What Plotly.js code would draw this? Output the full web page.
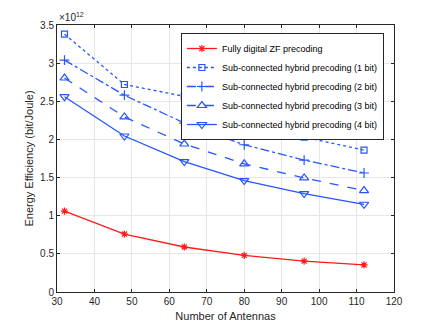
<!DOCTYPE html>
<html><head><meta charset="utf-8">
<script src="https://cdn.plot.ly/plotly-3.0.1.min.js"></script>
<style>html,body{margin:0;padding:0;background:#fff}#chart{width:436px;height:328px}</style>
</head><body><div id="chart"></div>
<script>
const antennas = [32, 48, 64, 80, 96, 112];
// Energy efficiency in units of 1e12 bit/Joule
const fullyDigitalZF = [1.06, 0.76, 0.59, 0.48, 0.405, 0.355];
const subConn1bit = [3.38, 2.72, 2.565, 2.25, 2.03, 1.86];
const subConn2bit = [3.04, 2.58, 2.215, 1.93, 1.73, 1.56];
const subConn3bit = [2.805, 2.295, 1.94, 1.68, 1.495, 1.33];
const subConn4bit = [2.56, 2.045, 1.71, 1.46, 1.29, 1.15];
const seriesNames = ["Fully digital ZF precoding",
  "Sub-connected hybrid precoding (1 bit)",
  "Sub-connected hybrid precoding (2 bit)",
  "Sub-connected hybrid precoding (3 bit)",
  "Sub-connected hybrid precoding (4 bit)"];
const xTicks = [30, 40, 50, 60, 70, 80, 90, 100, 110, 120];
const yTicks = [0, 0.5, 1, 1.5, 2, 2.5, 3, 3.5];

const red = "#ff1a1a", blue = "#2656ff";
function tr(y, name, color, dash, sym, size) {
  return {x: antennas, y: y, name: name, type: "scatter", mode: "lines+markers",
    line: {color: color, width: 1.3, dash: dash},
    marker: {symbol: sym, size: size, color: color, line: {color: color, width: 1.2}}};
}
const data = [
  tr(fullyDigitalZF, seriesNames[0], red, "solid", "asterisk-open", 6),
  tr(subConn1bit, seriesNames[1], blue, "dot", "square-open", 6),
  tr(subConn2bit, seriesNames[2], blue, "dashdot", "cross-thin-open", 7),
  tr(subConn3bit, seriesNames[3], blue, "dash", "triangle-up-open", 8),
  tr(subConn4bit, seriesNames[4], blue, "solid", "triangle-down-open", 8)
];
const axisCommon = {showline: true, linecolor: "#262626", linewidth: 1, mirror: "ticks",
  ticks: "inside", ticklen: 3, tickcolor: "#262626", showgrid: true, gridcolor: "#e6e6e6",
  zeroline: false, tickfont: {family: "Liberation Sans, Arial", size: 10, color: "#262626"}};
const layout = {
  width: 436, height: 328, margin: {l: 57, r: 42, t: 25, b: 36},
  paper_bgcolor: "#fff", plot_bgcolor: "#fff", showlegend: true,
  xaxis: Object.assign({}, axisCommon, {range: [30, 120], tickvals: xTicks,
    title: {text: "Number of Antennas", standoff: 6, font: {family: "Liberation Sans, Arial", size: 11, color: "#262626"}}}),
  yaxis: Object.assign({}, axisCommon, {range: [0, 3.5], tickvals: yTicks,
    title: {text: "Energy Efficiency (bit/Joule)", standoff: 4, font: {family: "Liberation Sans, Arial", size: 11, color: "#262626"}}}),
  legend: {x: 0.97, xanchor: "right", y: 0.97, yanchor: "top", bgcolor: "#fff",
    bordercolor: "#262626", borderwidth: 1, tracegroupgap: 0, itemwidth: 30,
    font: {family: "Liberation Sans, Arial", size: 9, color: "#000"}},
  annotations: [{xref: "paper", yref: "paper", x: 0, y: 1, xanchor: "left", yanchor: "bottom",
    text: "×10<sup>12</sup>", showarrow: false,
    font: {family: "Liberation Sans, Arial", size: 10, color: "#262626"}}]
};
Plotly.newPlot("chart", data, layout, {displayModeBar: false, staticPlot: true});
</script></body></html>
